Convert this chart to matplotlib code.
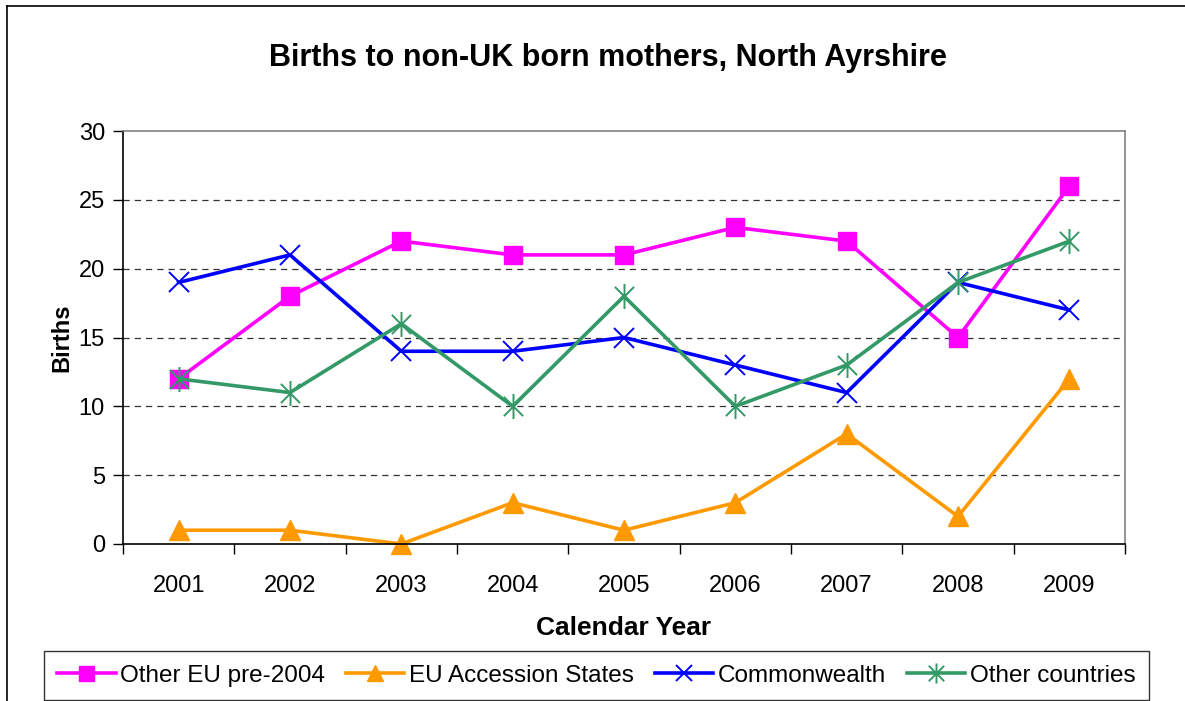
import matplotlib

matplotlib.use("Agg")
import matplotlib.pyplot as plt
from matplotlib.path import Path

plt.rcParams["font.family"] = ["Liberation Sans", "DejaVu Sans"]

YEARS = ["2001", "2002", "2003", "2004", "2005", "2006", "2007", "2008", "2009"]
OTHER_EU = [12, 18, 22, 21, 21, 23, 22, 15, 26]
EU_ACCESSION = [1, 1, 0, 3, 1, 3, 8, 2, 12]
COMMONWEALTH = [19, 21, 14, 14, 15, 13, 11, 19, 17]
OTHER_COUNTRIES = [12, 11, 16, 10, 18, 10, 13, 19, 22]

# excel style asterisk: an x with a vertical bar through it
ASTERISK = Path(
    [(-1, -1), (1, 1), (-1, 1), (1, -1), (0, -1.3), (0, 1.3)],
    [Path.MOVETO, Path.LINETO, Path.MOVETO, Path.LINETO, Path.MOVETO, Path.LINETO],
)

fig = plt.figure(figsize=(11.85, 7.01), dpi=100)
ax = fig.add_axes([123 / 1185, 157 / 701, 1002 / 1185, 413 / 701])

x = list(range(1, len(YEARS) + 1))
lw = 2.6
series = [
    (OTHER_EU, "Other EU pre-2004", "#FF00FF", dict(marker="s", markersize=13.5)),
    (EU_ACCESSION, "EU Accession States", "#FF9900", dict(marker="^", markersize=15)),
    (COMMONWEALTH, "Commonwealth", "#0000FF", dict(marker="x", markersize=14, markeredgewidth=1.4)),
    (OTHER_COUNTRIES, "Other countries", "#339966", dict(marker=ASTERISK, markersize=18, markeredgewidth=1.4)),
]
handles = []
for vals, label, color, mk in series:
    (h,) = ax.plot(x, vals, color=color, linewidth=lw, label=label,
                   markerfacecolor=color, markeredgecolor=color, clip_on=False, **mk)
    handles.append(h)

ax.set_xlim(0.5, len(YEARS) + 0.5)
ax.set_ylim(0, 30)
ax.set_yticks(range(0, 31, 5))
ax.set_xticks(x)
ax.set_xticklabels(YEARS)
ax.set_xticks([i + 0.5 for i in range(0, len(YEARS) + 1)], minor=True)
ax.tick_params(axis="x", which="major", length=0, pad=22, labelsize=17)
ax.tick_params(axis="x", which="minor", length=7, width=1, direction="out")
ax.tick_params(axis="y", length=7, width=1, direction="out", pad=6, labelsize=17)

for yv in range(5, 30, 5):
    ax.axhline(yv, color="#333333", linestyle=(0, (5, 4)), linewidth=0.9, zorder=0)

ax.spines["left"].set_color("black")
ax.spines["bottom"].set_color("black")
ax.spines["top"].set_color("#808080")
ax.spines["right"].set_color("#808080")
for s in ax.spines.values():
    s.set_linewidth(1.2)

ax.set_ylabel("Births", fontsize=17, fontweight="bold", labelpad=4)
ax.set_xlabel("Calendar Year", fontsize=19, fontweight="bold", labelpad=14)
fig.text(608 / 1185, 1 - 58 / 701, "Births to non-UK born mothers, North Ayrshire",
         ha="center", va="center", fontsize=22, fontweight="bold")

leg = fig.legend(handles=handles, loc="lower center", ncol=4,
                 bbox_to_anchor=(596.5 / 1185, 1 / 701),
                 fontsize=17.5, frameon=True, fancybox=False,
                 handlelength=2.4, handletextpad=0.2, columnspacing=0.85,
                 borderpad=0.55, borderaxespad=0, markerscale=0.8)
leg.get_frame().set_edgecolor("black")
leg.get_frame().set_linewidth(1.0)

# outer chart border, only top and left visible in the crop
fig.add_artist(plt.Line2D([7 / 1185, 7 / 1185], [0, 1 - 6 / 701], transform=fig.transFigure,
                          color="black", linewidth=1.2))
fig.add_artist(plt.Line2D([7 / 1185, 1], [1 - 6 / 701, 1 - 6 / 701], transform=fig.transFigure,
                          color="black", linewidth=1.2))

fig.savefig("out.png", dpi=100)
